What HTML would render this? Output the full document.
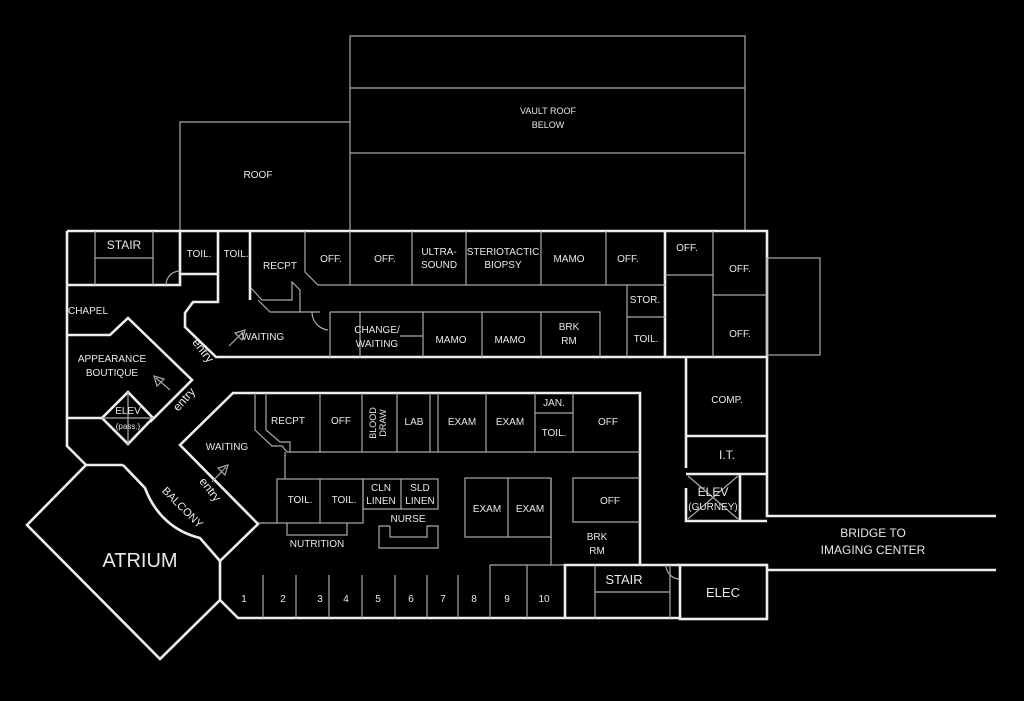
<!DOCTYPE html>
<html><head><meta charset="utf-8"><style>
html,body{margin:0;padding:0;background:#000;}
svg{display:block;font-size:10px}
text{font-family:"Liberation Sans",sans-serif;fill:#e8e8e8;text-anchor:middle}
.t{stroke:#aaa;stroke-width:1.2;fill:none}
.k{stroke:#eee;stroke-width:2.6;fill:none;stroke-linejoin:miter}
</style></head><body>
<svg width="1024" height="701" viewBox="0 0 1024 701">
<rect width="1024" height="701" fill="#000"/>
<!-- roofs -->
<rect class="t" x="350" y="36" width="395" height="195"/>
<line class="t" x1="350" y1="88" x2="745" y2="88"/>
<line class="t" x1="350" y1="153" x2="745" y2="153"/>
<polyline class="t" points="180,231 180,122 350,122"/>
<text x="548" y="114" font-size="9">VAULT ROOF</text>
<text x="548" y="128" font-size="9">BELOW</text>
<text x="258" y="178" font-size="10">ROOF</text>

<!-- top wing thick -->
<polyline class="k" points="67,231 767,231 767,357 685,357"/>
<polyline class="k" points="685,357 216,357 185,327 185,313 193,302 218,302 218,231"/>
<line class="k" x1="665" y1="231" x2="665" y2="357"/>
<line class="k" x1="250" y1="231" x2="250" y2="300"/>
<polyline class="k" points="180,231 180,285 67,285"/>
<polyline class="k" points="180,274 218,274"/>
<polyline class="k" points="67,231 67,446 86,465 123,465"/>
<!-- stair inner -->
<polyline class="t" points="95,231 95,285"/><polyline class="t" points="153,231 153,285"/><line class="t" x1="95" y1="258" x2="153" y2="258"/>
<path class="t" d="M166,285 A14,14 0 0 1 180,271"/>
<!-- recept area -->
<polyline class="t" points="305,231 305,272 318,285 412,285"/>
<polyline class="t" points="350,231 350,285"/><polyline class="t" points="412,231 412,285 665,285"/>
<polyline class="t" points="466,231 466,285"/><polyline class="t" points="541,231 541,285"/><polyline class="t" points="606,231 606,285"/>
<polyline class="t" points="251,288 262,300 292,300 292,282 300,290 300,312"/>
<polyline class="t" points="258,300 270,312 320,312"/>
<path class="t" d="M312,312 A18,18 0 0 0 328,330"/>
<polyline class="t" points="330,312 330,357"/>
<polyline class="t" points="330,312 600,312 600,357"/>
<polyline class="t" points="360,312 360,357"/><polyline class="t" points="423,312 423,357"/><polyline class="t" points="482,312 482,357"/><polyline class="t" points="541,312 541,357"/>
<line class="t" x1="400" y1="336" x2="423" y2="336"/>
<polyline class="t" points="627,285 627,357"/><line class="t" x1="627" y1="317" x2="665" y2="317"/>
<line class="t" x1="665" y1="275" x2="713" y2="275"/><line class="t" x1="713" y1="231" x2="713" y2="357"/><line class="t" x1="713" y1="295" x2="767" y2="295"/>
<rect class="t" x="767" y="258" width="53" height="97"/>

<!-- chapel / boutique -->
<polyline class="k" points="67,335 110,335 128,318 192,380 150,422"/>
<polygon class="k" points="128,392 153,418 128,444 102,418"/>
<line class="k" x1="67" y1="418" x2="102" y2="418"/>
<line class="t" x1="102" y1="418" x2="153" y2="418"/><line class="t" x1="128" y1="392" x2="128" y2="444"/>
<!-- atrium & balcony -->
<path class="k" d="M123,465 L145,488 C155,515 175,532 200,538 L220,561"/>
<polyline class="k" points="86,465 27,525 160,659 220,600 220,561"/>
<polyline class="k" points="220,561 258,524 180,445 233,393 640,393 640,565"/>
<polyline class="k" points="220,600 238,618 680,618"/>
<!-- lower rooms row -->
<polyline class="t" points="255,393 255,430 272,446 282,446 287,452 640,452"/>
<polyline class="t" points="266,393 266,430 280,442 290,442 290,452"/>
<polyline class="t" points="320,393 320,452"/><polyline class="t" points="362,393 362,452"/><polyline class="t" points="397,393 397,452"/><polyline class="t" points="430,393 430,452"/><polyline class="t" points="438,393 438,452"/><polyline class="t" points="486,393 486,452"/><polyline class="t" points="535,393 535,452"/><polyline class="t" points="573,393 573,452"/>
<line class="t" x1="535" y1="413" x2="573" y2="413"/>
<polyline class="t" points="285,452 285,479"/>
<rect class="t" x="277" y="479" width="86" height="44"/><line class="t" x1="320" y1="479" x2="320" y2="523"/>
<line class="t" x1="258" y1="523" x2="277" y2="523"/>
<polyline class="t" points="287,523 287,535 347,535 347,523"/>
<rect class="t" x="363" y="479" width="75" height="30"/><line class="t" x1="401" y1="479" x2="401" y2="509"/>
<polyline class="t" points="390,526 379,526 379,548 438,548 438,526 427,526 427,537 390,537 390,526"/>
<rect class="t" x="465" y="478" width="86" height="59"/><line class="t" x1="508" y1="478" x2="508" y2="537"/>
<polyline class="t" points="551,478 551,565"/>
<polyline class="t" points="640,478 573,478 573,522 640,522"/>
<!-- rooms 1-10 -->
<polyline class="t" points="263,575 263,618"/><polyline class="t" points="296,575 296,618"/><polyline class="t" points="329,575 329,618"/><polyline class="t" points="362,575 362,618"/><polyline class="t" points="395,575 395,618"/><polyline class="t" points="427,575 427,618"/><polyline class="t" points="458,575 458,618"/><polyline class="t" points="490,565 490,618"/><polyline class="t" points="527,565 527,618"/>
<line class="t" x1="490" y1="565" x2="565" y2="565"/>
<polyline class="k" points="565,618 565,565 680,565"/>
<polyline class="t" points="595,565 595,618"/><polyline class="t" points="670,565 670,618"/><line class="t" x1="595" y1="592" x2="670" y2="592"/>
<path class="t" d="M666,565 A14,14 0 0 0 680,579"/>
<rect class="k" x="680" y="565" width="87" height="54"/>
<!-- right column -->
<polyline class="k" points="686,357 686,468"/><polyline class="k" points="686,488 686,521 767,521"/>
<polyline class="k" points="767,357 767,516 996,516"/>
<line class="k" x1="767" y1="570" x2="996" y2="570"/>
<line class="k" x1="686" y1="436" x2="767" y2="436"/>
<line class="k" x1="686" y1="474" x2="767" y2="474"/>
<line class="k" x1="740" y1="474" x2="740" y2="521"/>
<line class="t" x1="688" y1="476" x2="738" y2="519"/><line class="t" x1="738" y1="476" x2="688" y2="519"/>

<!-- entry arrows -->
<g class="t"><line x1="229" y1="346" x2="243" y2="332"/><polygon points="245,330 235,333 242,340"/>
<line x1="170" y1="390" x2="156" y2="378"/><polygon points="154,376 157,386 164,379"/>
<line x1="212" y1="482" x2="226" y2="467"/><polygon points="228,465 218,468 225,475"/></g>

<!-- labels -->
<text x="124" y="249" font-size="12">STAIR</text>
<text x="199" y="257">TOIL.</text><text x="236" y="257">TOIL.</text>
<text x="280" y="269">RECPT</text><text x="331" y="262">OFF.</text><text x="385" y="262">OFF.</text>
<text x="439" y="255">ULTRA-</text><text x="439" y="268">SOUND</text>
<text x="503" y="255">STERIOTACTIC</text><text x="503" y="268">BIOPSY</text>
<text x="569" y="262">MAMO</text><text x="628" y="262">OFF.</text>
<text x="687" y="251">OFF.</text><text x="740" y="272">OFF.</text><text x="740" y="337">OFF.</text>
<text x="645" y="303">STOR.</text><text x="646" y="342">TOIL.</text>
<text x="88" y="314">CHAPEL</text><text x="263" y="340">WAITING</text>
<text x="377" y="333">CHANGE/</text><text x="377" y="347">WAITING</text>
<text x="451" y="343">MAMO</text><text x="510" y="343">MAMO</text>
<text x="569" y="330">BRK</text><text x="569" y="344">RM</text>
<text x="112" y="362">APPEARANCE</text><text x="112" y="376">BOUTIQUE</text>
<text x="128" y="414">ELEV</text><text x="128" y="429" font-size="8">(pass.)</text>
<text transform="translate(200,353) rotate(52)" font-size="12">entry</text>
<text transform="translate(187,402) rotate(-48)" font-size="12">entry</text>
<text transform="translate(207,492) rotate(52)" font-size="12">entry</text>
<text transform="translate(180,510) rotate(45)" font-size="11">BALCONY</text>
<text x="140" y="567" font-size="20">ATRIUM</text>
<text x="227" y="450">WAITING</text>
<text x="288" y="424">RECPT</text><text x="341" y="424">OFF</text>
<text transform="translate(376,423) rotate(-90)" font-size="9">BLOOD</text>
<text transform="translate(386,423) rotate(-90)" font-size="9">DRAW</text>
<text x="414" y="425">LAB</text><text x="462" y="425">EXAM</text><text x="510" y="425">EXAM</text>
<text x="554" y="406">JAN.</text><text x="554" y="436">TOIL.</text><text x="608" y="425">OFF</text>
<text x="727" y="403">COMP.</text><text x="727" y="459" font-size="12">I.T.</text>
<text x="713" y="496" font-size="12">ELEV</text><text x="713" y="510" font-size="10">(GURNEY)</text>
<text x="300" y="503">TOIL.</text><text x="344" y="503">TOIL.</text>
<text x="381" y="491">CLN</text><text x="381" y="504">LINEN</text><text x="420" y="491">SLD</text><text x="420" y="504">LINEN</text>
<text x="408" y="522">NURSE</text><text x="317" y="547">NUTRITION</text>
<text x="487" y="512">EXAM</text><text x="530" y="512">EXAM</text><text x="610" y="504">OFF</text>
<text x="597" y="540">BRK</text><text x="597" y="554">RM</text>
<text x="244" y="602">1</text><text x="283" y="602">2</text><text x="320" y="602">3</text><text x="346" y="602">4</text><text x="378" y="602">5</text><text x="411" y="602">6</text><text x="443" y="602">7</text><text x="474" y="602">8</text><text x="507" y="602">9</text><text x="544" y="602">10</text>
<text x="624" y="584" font-size="13">STAIR</text><text x="723" y="597" font-size="13">ELEC</text>
<text x="873" y="537" font-size="12">BRIDGE TO</text><text x="873" y="554" font-size="12">IMAGING CENTER</text>
</svg>
</body></html>
